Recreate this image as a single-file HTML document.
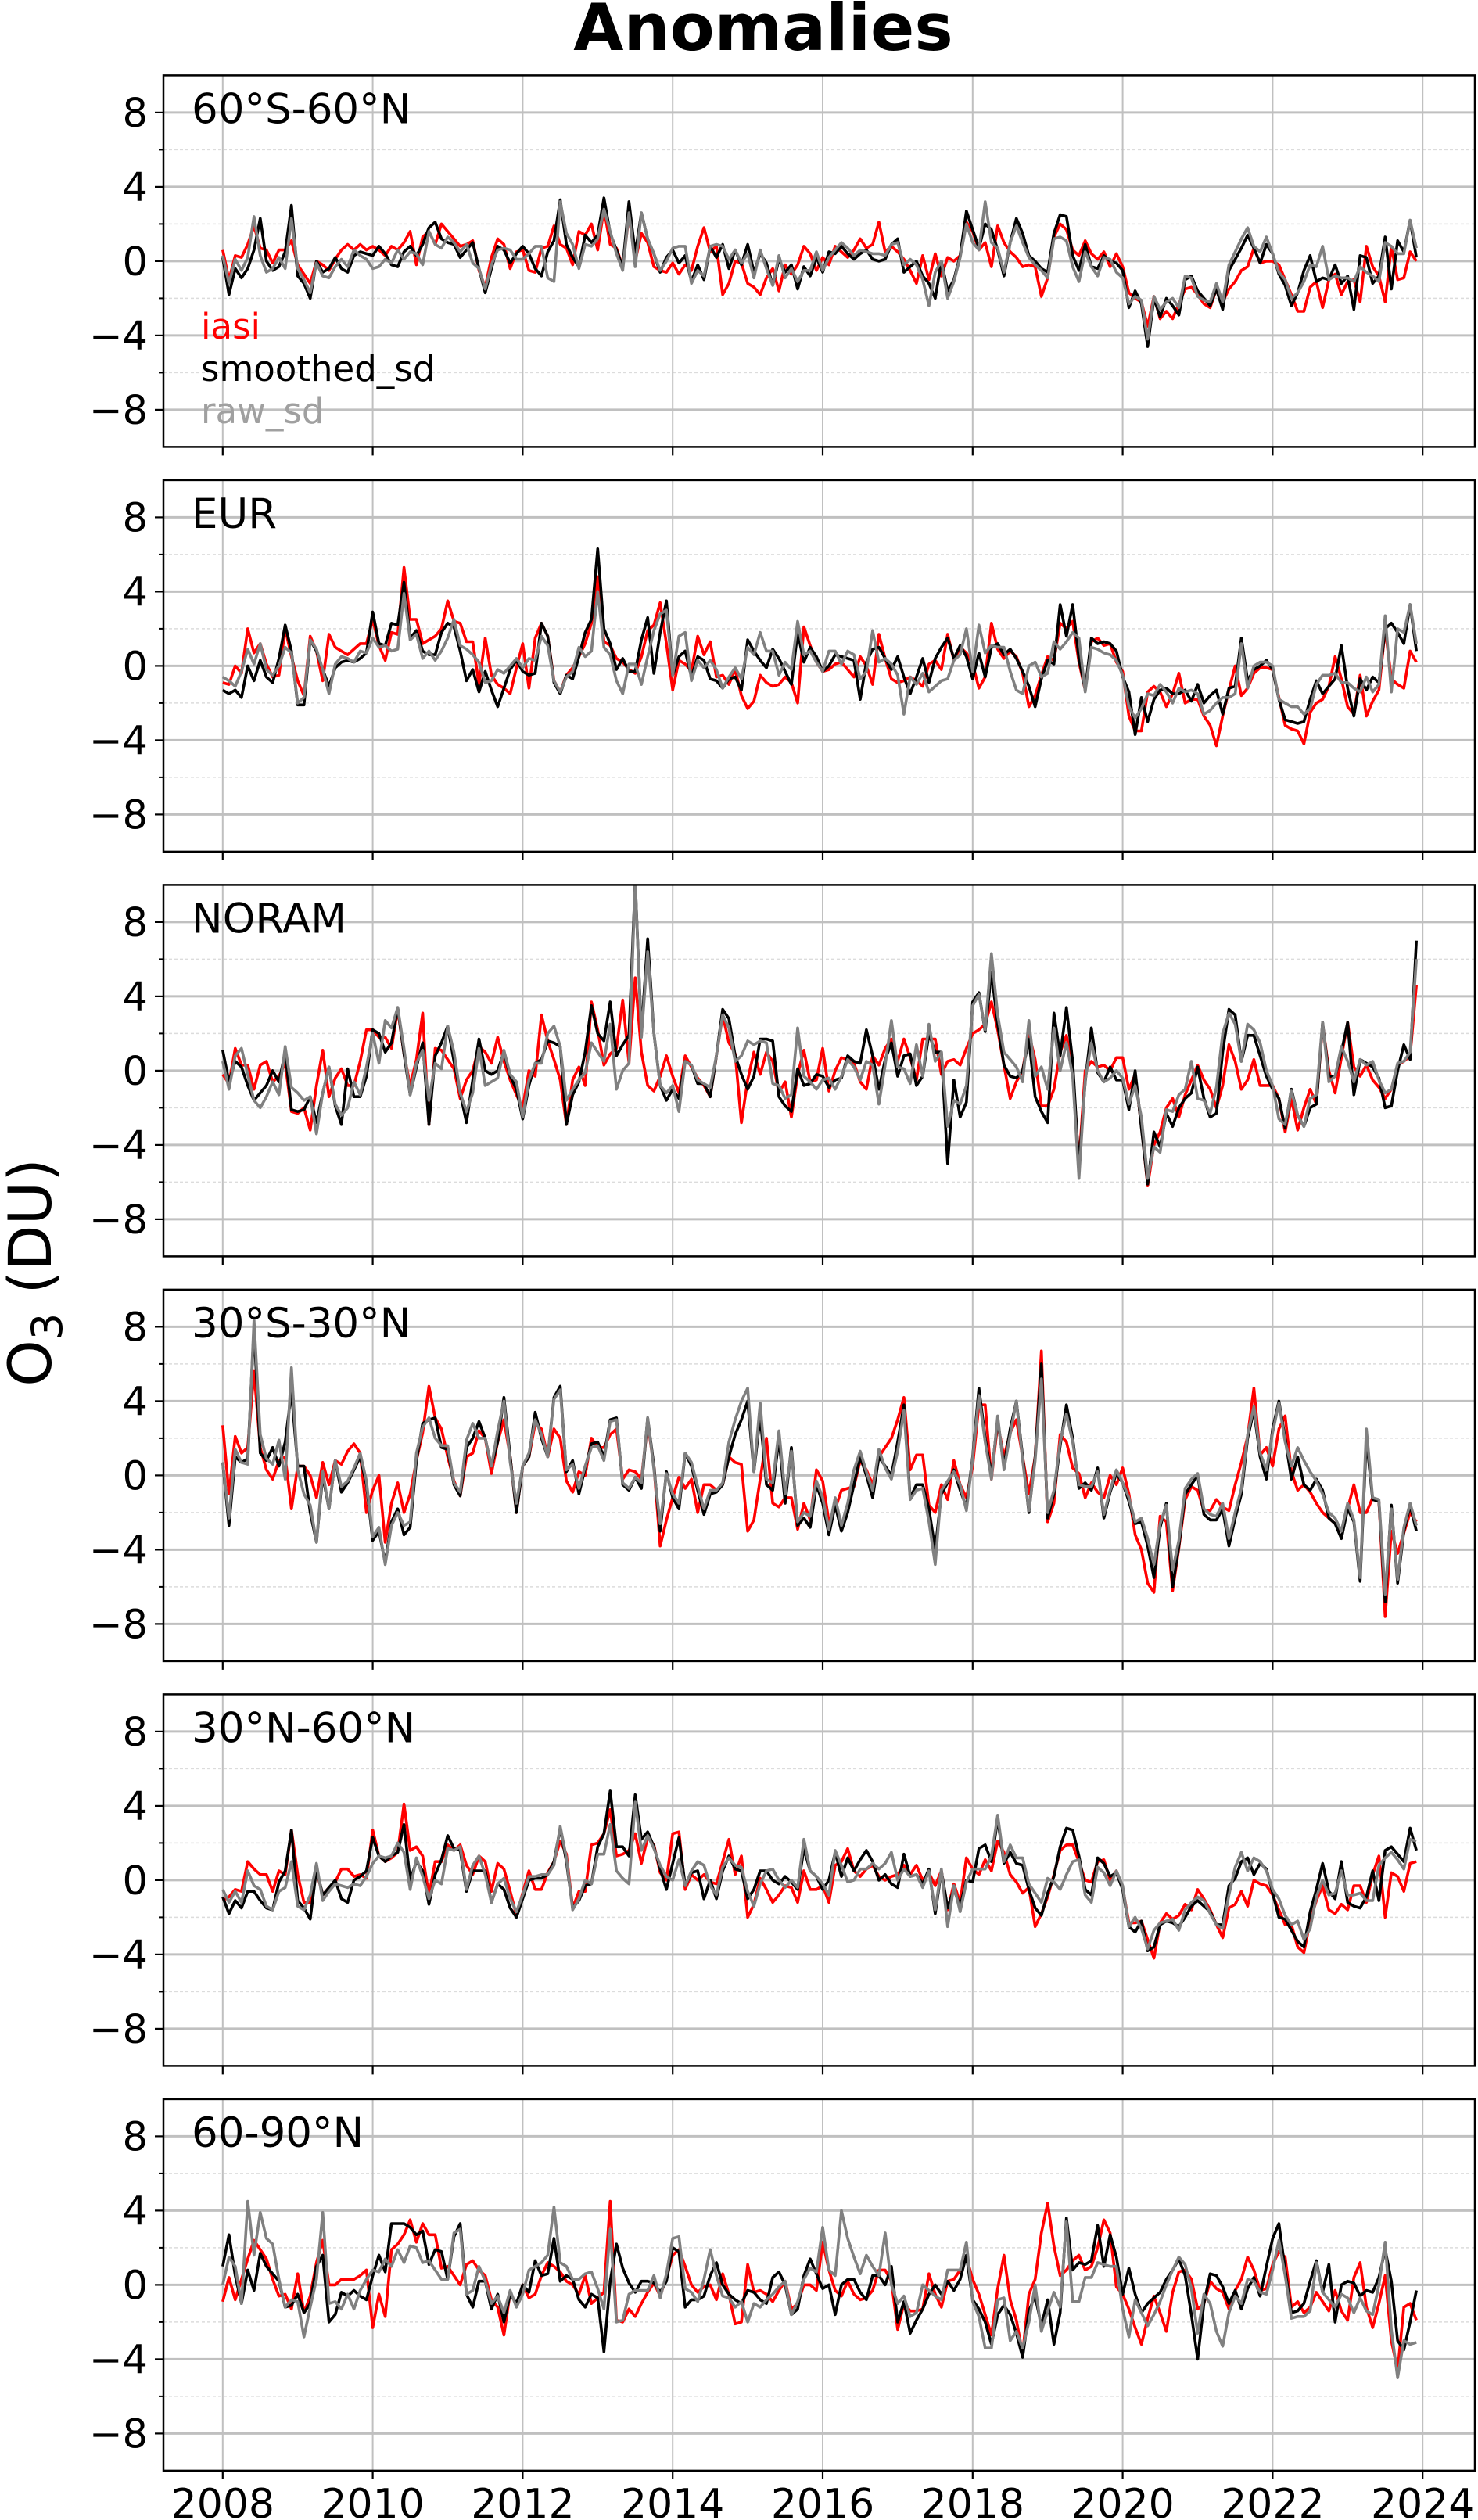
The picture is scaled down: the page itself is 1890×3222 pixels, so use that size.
<!DOCTYPE html>
<html><head><meta charset="utf-8"><title>Anomalies</title>
<style>html,body{margin:0;padding:0;background:#fff}svg{display:block}text{font-family:"DejaVu Sans","Liberation Sans",sans-serif}</style>
</head><body>
<svg id="fig" width="1890" height="3222" viewBox="0 0 1890 3222" xmlns="http://www.w3.org/2000/svg">
<text x="976" y="64" text-anchor="middle" font-size="83" font-weight="bold">Anomalies</text>
<text transform="translate(65,1627) rotate(-90)" text-anchor="middle" font-size="76">O<tspan font-size="54" dy="14">3</tspan><tspan dy="-14"> (DU)</tspan></text>
</svg>
<script>
const panelLabels=["60°S-60°N","EUR","NORAM","30°S-30°N","30°N-60°N","60-90°N"];
const panelNames=["global","eur","noram","tropics","midlat","arctic"];
const xTickYears=[2008,2010,2012,2014,2016,2018,2020,2022,2024];
const yTickValues=[-8,-4,0,4,8];
const yTickLabels=["−8","−4","0","4","8"];
const yMinorValues=[-6,-2,2,6];
const seriesNames=["iasi","smoothed_sd","raw_sd"];

const iasiGlobal=[0.6,-1.0,0.3,0.2,0.9,1.9,0.7,0.6,-0.1,0.6,0.6,1.1,-0.2,-0.7,-1.2,0,-0.2,-0.5,0.1,0.6,0.9,0.6,0.9,0.6,0.8,0.6,0.3,0.8,0.6,1.0,1.6,-0.2,1.3,1.6,0.9,2.0,1.6,1.2,0.8,0.9,1.1,-0.5,-1.4,0.2,1.2,0.9,-0.4,0.5,0.6,-0.5,-0.6,0.7,0.8,1.9,0.9,0.7,-0.2,1.6,1.4,2.0,0.6,2.8,0.9,0.7,-0.3,2.5,0,1.5,1.0,-0.3,-0.5,-0.6,-0.1,-0.7,-0.2,-0.5,0.8,1.8,0.5,0.8,-1.8,-1.2,0,-0.1,-1.2,-1.4,-1.8,-0.9,-0.4,-1.6,-0.2,-0.7,-0.2,0.8,0.4,-0.5,0.2,-0.2,0.8,0.5,0.2,0.6,1.2,0.7,0.9,2.1,0.5,0.8,0.5,0.1,-0.5,-1.2,0.3,-1.0,0.4,-0.8,0.2,0,0.3,2.1,1.6,0.6,1.0,-0.3,1.9,1.0,0.5,0.2,-0.3,-0.2,-0.3,-1.9,-0.9,1.3,2.0,1.7,0.6,0.3,1.1,0.4,0.1,0.5,-0.3,0.4,-0.3,-1.7,-2.0,-2.2,-3.5,-1.9,-3.1,-2.7,-3.1,-2.3,-1.5,-1.4,-1.8,-2.3,-2.5,-1.5,-2.2,-1.5,-1.1,-0.5,-0.3,0.7,-0.1,0.0,0.0,-0.2,-1.0,-1.8,-2.7,-2.7,-1.4,-1.1,-2.5,-1.0,-0.7,-1.8,-1.1,-1.0,-2.2,0.8,-0.3,-0.8,-2.2,0.8,-1.0,-0.9,0.5,0.0];
const smoothGlobal=[0.2,-1.8,-0.4,-0.9,-0.4,0.6,2.3,0,-0.5,-0.3,0.5,3.0,-0.8,-1.2,-2.0,0,-0.6,-0.4,0.2,-0.4,-0.6,0.3,0.5,0.4,0.3,0.8,0.4,-0.2,-0.3,0.5,0.8,0.3,0.9,1.8,2.1,1.2,1.0,0.9,0.2,0.6,1.0,-0.4,-1.7,-0.4,0.8,0.6,-0.1,0.4,0.8,0.4,-0.4,-0.8,0.5,1.1,3.3,0.9,0.2,-0.3,1.4,1.0,1.4,3.4,1.5,0.6,-0.3,3.2,0.4,2.6,1.2,0.4,-0.6,0.2,0.6,-0.1,0.3,-1.1,-0.2,-1.0,0.8,0.2,0.9,-0.4,0.6,-0.2,0.9,-0.6,0.4,-0.1,-1.3,0.1,-0.6,-0.2,-1.5,-0.3,-0.8,0.2,-0.6,0.5,0.4,0.8,0.4,0.1,0.4,0.6,0.1,0.0,0.1,0.9,1.2,-0.6,-0.3,0,-0.8,-1.2,-2.0,0,-1.6,-1.0,0.3,2.7,1.7,0.7,2.0,1.7,0.6,-0.8,1.0,2.3,1.5,0.3,0,-0.4,-0.6,1.5,2.5,2.4,0.3,-0.5,0.9,-0.3,-0.4,0.3,0,-0.1,-0.5,-2.5,-1.6,-2.3,-4.6,-2.0,-3.0,-2.0,-2.4,-2.9,-1.0,-0.8,-1.6,-2.0,-2.4,-1.5,-2.6,-0.5,0.1,0.7,1.4,0.7,-0.1,0.9,0.4,-0.7,-1.3,-2.4,-1.7,-0.5,0.3,-1.1,-0.9,-1.0,-0.2,-1.2,-0.8,-2.6,0.3,0.2,-1.2,-0.8,1.3,-1.5,1.1,0.5,2.2,0.2];
const rawGlobal=[0.3,-1.2,0.1,-0.5,0.2,2.4,0.3,-0.6,-0.4,0.2,-0.4,2.3,-0.4,-1.0,-1.7,-0.1,-0.8,-0.9,-0.3,0.1,-0.3,0.6,0.3,0.1,-0.4,-0.3,0.1,-0.1,0.6,0.1,0.5,0.4,-0.2,1.6,0.9,0.7,1.3,1.0,0.5,0.9,-0.1,-0.4,-1.5,-0.2,0.6,0.7,0.6,0.1,0.1,0.4,0.8,0.8,-0.9,-1.1,3.2,1.5,0.9,-0.4,0.9,0.8,1.2,2.8,1.6,0.4,-0.5,2.6,-0.3,2.6,1.2,0.4,-0.5,0,0.7,0.8,0.8,-1.2,-0.5,-0.8,0.8,0.9,0.8,0.1,0.6,-0.1,0.4,-0.9,0.6,-0.4,-1.3,0.3,-0.9,-0.4,-1.1,-0.5,-0.5,0.5,-0.5,0.2,0.6,1.0,0.7,0.3,0.6,0.5,0.4,0.4,0.3,0.9,1.0,-0.2,0.1,-0.2,-1.0,-2.4,-0.6,0,-2.0,-1.1,0.2,2.0,1.0,0.6,3.2,1.0,0.7,-0.6,1.0,1.9,1.0,0.2,-0.2,-0.5,-0.9,1.2,1.3,1.1,-0.3,-1.1,0.5,-0.3,-0.8,0.2,0.1,-0.6,-0.9,-2.3,-1.9,-2.1,-4.2,-1.9,-2.6,-2.2,-2.0,-2.5,-0.8,-0.9,-1.9,-2.1,-2.2,-1.2,-2.2,-0.2,0.5,1.2,1.8,0.8,0.5,1.3,0.4,-0.6,-1.0,-2.0,-1.7,-1.1,-0.2,-0.3,0.8,-1.0,-0.8,-0.9,-0.9,-1.1,-0.3,-0.6,-0.8,-1.1,1.0,0.8,0.4,0.4,2.2,0.7];

const iasiEur=[-0.9,-1.0,0.0,-0.4,2.0,0.7,1.2,0.1,-0.6,-0.5,2.0,0.5,-0.8,-1.6,1.6,0.8,-0.8,1.7,1.0,0.8,0.6,0.9,1.2,1.2,2.5,1.1,0.3,1.8,1.7,5.3,2.5,2.5,1.2,1.4,1.6,2.0,3.5,2.4,2.3,1.3,1.3,-1.0,1.5,-0.5,-1.0,-1.2,-1.5,-0.1,1.2,-1.2,1.5,2.3,1.6,-0.8,-1.4,-0.5,-0.1,0.5,1.2,2.3,4.8,1.3,1.1,0.4,0.2,-0.2,-0.4,0.5,1.9,2.2,3.4,1.2,-1.3,0.3,0.1,-0.3,1.6,0.6,1.3,-0.6,-0.5,-1.0,-0.2,-1.6,-2.3,-1.9,-0.5,-0.9,-1.1,-1.0,-0.6,-0.9,-2.0,2.1,1.1,0.2,-0.3,-0.2,0.1,0.2,-0.2,-0.6,0.5,0,-1.0,1.7,0.4,-0.7,-0.9,-0.8,-0.6,-0.8,-1.1,0.1,0.3,-0.2,1.7,0.3,1.0,0.7,0.1,-1.2,-0.6,2.3,0.9,0.4,0.8,0.5,-0.4,-2.2,-1.6,-0.5,0.5,0.3,2.3,2.0,2.4,0.2,-1.3,1.3,1.5,1.1,1.2,0.2,-0.3,-2.7,-3.5,-3.5,-1.4,-1.1,-1.4,-2.2,-1.5,-0.4,-2.0,-1.8,-1.8,-2.7,-3.2,-4.3,-2.7,-1.3,0,-1.6,-1.2,-0.4,-0.1,-0.1,-0.2,-1.7,-3.2,-3.4,-3.5,-4.2,-2.5,-2.0,-1.8,-1.1,0.5,-0.7,-2.2,-2.6,-0.5,-2.7,-1.9,-1.3,2.0,-0.7,-1.0,-1.2,0.8,0.2];
const smoothEur=[-1.3,-1.5,-1.3,-1.7,0,-0.8,0.3,-0.6,-0.9,0.4,2.2,0.8,-2.1,-2.1,1.4,0.8,-0.2,-1.1,-0.1,0.2,0.3,0.2,0.4,0.7,2.9,1.2,1.1,2.3,2.2,4.5,1.5,1.9,0.8,0.6,0.6,1.8,2.3,2.1,0.8,-0.8,-0.2,-1.4,-0.3,-1.3,-2.2,-1.2,-0.2,0.3,-0.3,-0.5,-0.4,2.3,1.6,-0.9,-1.5,-0.5,-0.7,0.5,1.8,2.5,6.3,2.0,1.2,-0.2,0.4,-0.3,-0.3,1.4,2.6,-0.4,1.8,3.5,-0.5,0.5,0.8,-0.6,0.5,0.3,-0.7,-0.8,-1.2,-0.7,-0.6,-1.3,1.4,0.8,0.3,-0.1,0.9,0.4,-0.3,-1.0,1.8,0.2,1.0,0.5,-0.3,0,0.6,0.5,0.4,0.3,-1.8,0.2,0.9,1.0,0.4,-0.2,0.5,-0.6,-1.5,-0.6,0.4,-0.9,0.4,1.0,1.5,0.4,1.1,0.5,-0.7,0.7,-0.6,1.0,1.2,0.6,0.9,0.4,-0.3,-1.1,-2.2,-0.7,0.3,0.1,3.3,1.6,3.3,0.4,-1.3,1.5,1.2,1.3,1.2,0.8,-0.6,-1.4,-3.7,-1.7,-3.0,-1.8,-1.3,-1.2,-1.5,-1.5,-1.3,-1.9,-1.0,-2.0,-1.6,-1.3,-2.6,-1.2,-1.1,1.5,-0.8,-0.2,0,0.3,-0.2,-1.8,-2.9,-3.0,-3.1,-3.0,-1.8,-0.8,-1.5,-1.1,-0.7,1.1,-1.2,-2.7,-0.7,-1.3,-0.6,-0.9,2.0,2.3,1.8,1.2,3.3,0.8];
const rawEur=[-0.6,-0.8,-1.1,-0.3,0.9,0.1,1.2,-0.2,-0.5,0,1.0,0.7,-2.0,-1.7,1.4,0.9,-0.2,-1.5,0.1,0.5,0.4,0.2,0.8,0.7,1.5,1.0,1.1,0.8,0.9,3.9,1.4,1.7,0.4,0.8,0.3,0.8,1.5,2.5,1.1,0.9,0.6,0.2,-0.9,-0.8,-0.2,-0.4,0,0.4,-0.1,0.4,0.3,1.6,1.1,-0.8,-1.4,-0.6,-0.3,1.0,0.5,0.8,4.0,1.0,0.6,-0.8,-1.5,0.1,0.1,-1.0,0.5,1.9,2.8,3.0,-0.5,1.6,1.8,-0.8,0.3,-0.1,0.3,-0.2,-1.2,-0.6,-0.1,-0.7,1.0,0.6,1.8,0.8,0.8,-0.5,0.2,-0.2,2.4,0.6,0.8,0.2,-0.3,0.8,0.8,0.1,0.8,0.6,-0.7,-0.3,1.9,0.2,0.4,0.1,-0.5,-2.6,-0.6,-1.0,-0.4,-1.4,-1.1,-0.8,-0.7,0.3,0.6,2.0,-0.3,2.2,0.7,1.1,1.0,1.0,-0.3,-1.3,-1.5,0,0.2,-0.6,-0.4,1.3,0.9,1.3,1.8,1.5,-1.4,1.0,0.9,0.7,0.6,0.3,-0.5,-2.2,-2.8,-2.3,-1.5,-1.6,-1.0,-1.4,-2.0,-1.2,-1.4,-1.3,-1.5,-2.6,-2.4,-2.0,-1.7,-1.7,-1.5,1.2,-1.2,0,0.2,0.2,0,-1.8,-2.0,-2.2,-2.2,-2.6,-2.3,-1.0,-0.5,-0.5,-0.4,-0.9,-0.9,-1.2,-1.4,-0.6,-1.4,-1.0,2.7,-1.4,2.0,1.8,3.3,1.2];

const iasiNoram=[-0.2,-0.7,1.2,0.3,0.3,-1.0,0.3,0.5,-0.6,-0.3,0.4,-2.2,-2.3,-2.0,-3.2,-0.8,1.1,-1.4,-0.4,0.1,-0.8,-0.8,0.5,2.2,2.2,1.8,1.8,1.2,3.3,0.9,-0.8,0.6,3.1,-2.9,1.2,1.1,0.6,0.1,-1.5,-0.5,0.0,1.3,1.0,0.4,1.8,0.5,-0.5,-1.3,-2.0,0.0,-0.3,3.0,1.6,0.6,-0.5,-2.9,-0.5,0.2,-0.8,3.7,2.2,0.3,0.9,1.2,3.8,0.4,5.0,1.0,-0.8,-1.1,-0.3,0.8,-0.3,-1.2,0.8,0.2,-0.4,-0.8,-1.4,0.8,3.0,1.5,0.9,-2.8,-0.5,1.0,-0.2,1.0,0.5,-1.2,-0.6,-2.5,-0.2,1.1,-0.6,-0.5,1.2,-1.1,0.0,0.7,0.6,0.4,-0.6,-1.0,0.8,0.3,1.2,1.7,0.5,1.7,0.7,-0.5,1.7,1.7,1.7,-0.2,0.5,0.6,0.3,1.2,2.0,2.2,2.5,3.7,2.2,0.3,-1.5,-0.6,0.0,2.0,0.6,-1.9,-1.9,-1.0,1.0,1.9,0.1,-5.0,0.0,0.5,0.2,0.3,0.0,0.7,0.7,-1.0,-0.2,-3.0,-6.2,-4.0,-3.3,-2.0,-1.5,-2.5,-1.3,-0.5,0.3,-0.5,-1.0,-2.0,-0.8,1.4,0.5,-1.0,-0.5,0.6,-0.8,-0.8,-0.8,-1.5,-3.3,-1.5,-3.2,-2.0,-1.0,-1.8,2.5,0.0,-1.2,0.7,2.6,0.2,-0.3,0.3,-0.5,-0.9,-1.5,-1.0,0.3,0.5,0.8,4.6];
const smoothNoram=[1.1,-0.6,0.5,0.2,-0.8,-1.6,-1.2,-0.8,0.0,-0.6,1.0,-2.1,-2.2,-2.1,-1.4,-2.8,-1.2,0.2,-1.9,-2.9,0.1,-1.4,-1.4,-0.3,2.2,2.0,1.0,1.5,3.4,0.9,-1.3,0.2,1.5,-2.9,0.8,1.5,2.4,0.5,-1.2,-2.8,-0.5,1.7,0.0,-0.2,0.0,1.0,-0.3,-1.0,-2.6,-0.8,0.4,0.6,1.6,1.5,1.3,-2.9,-1.3,-0.6,1.0,3.5,2.0,1.6,3.7,0.8,1.4,1.9,10.2,2.0,7.1,2.0,-0.8,-1.6,-1.0,-1.5,0.5,0.3,-0.7,-0.7,-1.4,0.8,3.3,2.8,0.8,-0.2,-1.0,-0.3,1.7,1.7,1.6,-1.4,-1.9,-2.2,0.1,-0.8,-0.7,-0.2,-0.3,-0.9,-0.5,-0.4,0.8,0.5,0.4,2.2,0.8,-1.0,0.6,1.5,-0.3,0.8,0.9,-0.8,-0.3,2.0,1.0,1.0,-5.0,-0.5,-2.5,-1.7,3.7,4.2,2.1,5.3,2.5,0.3,-0.3,-0.4,0.0,1.7,-1.4,-2.2,-2.8,3.1,0.8,3.4,0.5,-5.2,-0.6,2.3,-0.1,-0.6,0.2,-0.5,-0.5,-2.1,0.0,-3.1,-6.1,-3.3,-4.1,-2.3,-3.0,-2.0,-1.5,-1.2,0.2,-1.5,-2.5,-2.3,1.0,3.3,3.0,0.5,1.9,1.9,0.8,-0.3,-1.0,-1.5,-3.1,-1.0,-2.4,-3.0,-2.0,-1.8,2.6,-0.3,-0.3,1.0,2.6,-1.3,0.6,0.4,0.2,-0.4,-2.0,-1.9,0.0,1.4,0.6,7.0];
const rawNoram=[0.5,-1.0,0.8,1.2,-0.2,-1.6,-2.0,-1.4,-0.6,-1.3,1.3,-0.9,-1.2,-1.6,-1.4,-3.4,-1.2,0.2,-1.8,-2.4,-2.0,-0.6,-1.3,0.2,2.0,0.4,2.7,2.3,3.4,1.2,-1.3,0.4,1.1,-1.6,0.4,0.1,2.4,1.0,-1.2,-2.2,-1.2,1.2,-0.8,-0.6,-0.4,1.1,-0.2,-0.6,-2.5,-0.5,0.4,0.4,2.0,2.4,1.3,-1.6,-1.0,-0.5,-0.1,1.5,1.0,0.5,2.5,-1.0,0.0,0.4,10.2,1.8,6.4,2.0,-0.8,-1.2,-0.8,-2.2,0.5,0.3,-0.5,-0.7,-0.9,0.8,3.0,2.3,0.5,0.8,1.6,1.4,1.6,1.5,-0.7,-0.8,-1.5,-1.3,2.3,-0.3,-0.6,-1.0,-0.5,-0.4,-1.0,-0.3,0.6,0.2,-0.5,0.5,0.3,-1.8,0.3,2.7,0.2,0.1,-0.7,1.4,-0.3,2.5,0.5,1.0,-3.0,-1.6,-1.8,-0.8,3.5,4.1,2.2,6.3,3.0,1.0,0.6,0.2,-0.6,2.7,-0.3,0.2,-1.0,2.3,0.0,1.5,-0.3,-5.8,-0.5,1.5,0.0,-0.6,-0.4,0.0,-0.4,-1.8,-0.8,-2.5,-5.8,-4.1,-4.4,-2.1,-2.2,-1.3,-1.0,0.5,-1.5,-1.6,-2.3,-0.9,2.0,3.1,2.5,0.5,2.5,2.2,1.5,0.0,-0.8,-2.6,-2.9,-1.1,-2.4,-3.0,-1.5,-1.3,2.6,-0.6,-0.3,1.3,0.5,-0.6,0.6,0.3,0.5,-0.5,-1.2,-1.0,0.4,0.5,1.0,6.0];

const iasiTropics=[2.7,-1.0,2.1,1.2,1.5,5.6,1.5,0.3,-0.2,0.8,1.0,-1.8,0.5,0.5,0.0,-1.2,0.7,-0.5,0.8,0.6,1.3,1.7,1.2,-2.0,-0.8,0.0,-3.6,-1.5,-0.4,-2.0,-1.0,0.8,2.3,4.8,3.1,2.5,1.0,-0.3,-1.1,1.0,1.2,2.4,2.0,0.1,1.8,3.0,1.0,-2.0,0.5,1.0,2.8,2.5,1.0,2.5,2.0,-0.3,-0.9,0.2,0.0,2.0,1.5,1.5,2.2,2.5,-0.2,0.3,0.2,-0.2,2.8,0.5,-3.8,-2.4,-1.2,-0.1,-0.7,-0.2,-2.0,-0.5,-0.5,-0.8,-0.5,1.0,0.7,0.6,-3.0,-2.4,-0.2,2.0,-1.5,-1.7,-1.2,-1.2,-2.9,-1.5,-2.4,0.3,-0.3,-2.5,-1.8,-0.8,-0.7,-0.6,0.8,0.3,-0.5,1.0,1.5,2.0,3.0,4.2,0.3,1.1,1.1,-1.6,-2.0,-0.5,-1.3,0.8,-0.5,-1.2,0.5,3.8,3.8,-0.2,2.8,1.0,2.3,3.0,1.0,-1.0,1.0,6.7,-2.5,-1.5,2.2,1.8,0.4,0.1,-1.2,-0.4,-0.9,-1.2,0.0,-0.5,0.4,-1.0,-3.2,-4.0,-5.8,-6.3,-2.2,-2.5,-6.2,-3.9,-1.3,-0.6,-0.8,-1.9,-1.9,-1.3,-1.7,-1.9,-0.5,0.7,2.1,4.7,1.1,1.5,0.5,2.5,3.2,0.2,-0.8,-0.5,-0.9,-1.5,-2.0,-2.3,-2.6,-3.0,-1.8,-0.5,-2.0,-2.0,-1.2,-1.4,-7.6,-3.0,-4.2,-3.1,-2.0,-2.5];
const smoothTropics=[0.7,-2.7,1.0,0.7,0.9,8.0,1.2,0.8,1.5,0.5,1.8,4.5,0.5,0.5,-2.0,-3.6,0.0,-1.8,0.8,-0.9,-0.4,0.3,1.0,-0.5,-3.5,-3.0,-4.7,-2.5,-1.8,-3.2,-2.8,0.8,2.8,3.0,3.1,1.5,1.4,-0.5,-1.1,1.5,2.0,2.9,2.0,0.5,1.8,4.2,1.0,-2.0,0.5,1.0,3.4,2.0,1.0,4.2,4.8,0.2,0.8,-1.0,0.4,1.7,1.8,1.0,3.0,3.1,-0.5,-0.8,-0.1,-0.7,3.1,0.5,-3.0,0.2,-1.2,-1.8,1.2,0.5,-0.8,-2.1,-1.0,-0.9,-0.5,1.0,2.2,3.0,4.0,0.2,3.2,-0.5,-0.8,2.0,-1.5,1.5,-2.7,-2.3,-2.8,-0.5,-1.5,-3.2,-1.6,-3.0,-2.0,-0.5,1.0,0.0,-1.2,1.0,0.5,0.0,1.8,3.8,-1.2,-0.5,-0.5,-1.8,-4.0,-1.0,-0.4,0.3,-0.8,-1.7,1.0,4.7,2.0,0.0,3.0,0.5,2.5,4.0,1.0,-2.0,1.0,6.0,-2.3,-1.0,1.6,3.8,2.0,-0.7,-0.4,-0.8,0.4,-2.3,-0.9,0.1,-0.4,-1.4,-2.6,-2.5,-3.8,-5.5,-2.8,-1.5,-6.0,-3.8,-1.0,-0.5,0.0,-2.1,-2.4,-2.4,-1.8,-3.8,-2.3,-1.0,2.0,3.5,1.0,-0.2,2.5,4.0,2.0,-0.2,1.0,-0.5,-0.8,-0.2,-0.8,-2.3,-2.6,-3.4,-1.8,-2.5,-5.7,2.0,-1.3,-1.4,-6.8,-1.6,-5.8,-3.0,-1.6,-3.0];
const rawTropics=[0.7,-2.3,1.4,0.7,0.6,8.4,2.2,0.9,0.6,1.9,-0.2,5.8,0.3,-1.0,-1.6,-3.6,0.2,-1.8,0.8,-0.6,-0.3,0.4,1.2,-0.3,-3.3,-2.8,-4.8,-2.7,-2.0,-2.7,-2.5,1.2,2.6,3.1,2.0,1.6,1.6,-0.4,-0.9,1.9,2.8,2.0,2.0,0.5,2.4,4.0,0.7,-1.5,0.5,1.2,3.0,2.2,1.0,4.1,4.6,0.3,0.6,-0.7,0.5,1.5,1.6,0.8,2.9,3.0,-0.4,-0.7,-0.1,-0.4,3.1,0.3,-2.6,0.1,-1.0,-1.5,1.2,0.7,-0.6,-1.8,-0.8,-0.8,-0.4,1.8,3.0,4.0,4.7,0.2,3.9,-0.2,-0.4,2.4,-1.0,1.3,-2.5,-2.0,-2.2,-0.3,-1.2,-2.9,-1.2,-2.7,-1.5,0.3,1.3,0.2,-0.8,1.4,0.4,-0.2,1.3,3.5,-1.3,-0.8,-0.7,-2.5,-4.8,-0.8,-0.3,0.2,-0.5,-1.9,0.9,4.3,1.8,-0.2,3.2,0.3,2.2,4.0,0.8,-1.9,0.8,5.2,-2.0,-0.8,1.8,3.3,1.8,-0.5,-0.6,-0.6,0.2,-2.1,-0.8,0.3,-0.4,-1.2,-2.5,-2.3,-3.4,-4.8,-2.6,-1.6,-5.1,-3.5,-0.7,-0.2,0.1,-1.8,-2.1,-2.2,-1.5,-3.4,-2.0,-0.7,2.2,3.7,1.2,0.3,2.3,3.9,1.8,0.5,1.5,0.8,0.2,-0.3,-1.0,-2.0,-2.3,-3.0,-1.5,-2.4,-5.5,2.5,-1.2,-1.3,-6.4,-1.8,-5.6,-2.8,-1.5,-2.7];

const iasiMidlat=[-1.1,-0.9,-0.5,-0.6,1.0,0.6,0.3,0.3,-0.6,0.5,0.3,2.7,0.3,-1.2,-1.2,0.5,-0.8,-0.4,-0.1,0.6,0.6,0.2,0.3,0.1,2.7,1.3,1.0,1.2,1.5,4.1,1.6,1.8,1.3,-0.8,1.0,1.0,1.9,1.6,1.9,0.8,0.3,1.3,1.0,-0.6,0.9,0.6,-0.6,-1.9,-0.7,0.5,-0.5,-0.5,0.4,1.0,2.1,1.4,-1.5,-0.6,-0.6,1.9,2.0,2.5,3.8,1.3,1.4,1.6,2.5,0.9,2.3,1.9,0.4,0.0,2.5,2.6,-0.5,0.3,0.0,0.3,-0.1,-0.2,1.0,2.2,0.3,1.3,-2.0,-1.3,0.1,-0.5,-1.2,-0.8,-0.3,-0.4,-1.2,0.5,-0.5,-0.5,-0.3,-1.2,0.8,1.0,1.7,0.5,0.2,0.6,0.8,0.2,0.0,0.2,0.3,0.8,0.3,0.8,0.0,0.4,-0.3,0.5,-1.6,-0.2,-1.2,1.2,0.6,0.3,1.1,0.5,2.1,1.5,0.3,-0.1,-0.7,-0.4,-2.5,-1.8,-0.9,0.3,1.6,1.9,1.9,1.0,0.0,-0.1,1.0,1.1,0.0,0.5,-0.4,-2.3,-2.3,-2.2,-3.2,-4.2,-2.3,-1.8,-2.1,-1.9,-1.3,-1.6,-0.5,-1.0,-1.6,-2.4,-3.1,-1.5,-1.3,-0.6,-1.4,0.0,-0.2,-0.3,-0.8,-1.6,-2.4,-2.4,-3.6,-3.9,-2.2,-1.1,-0.3,-1.6,-1.8,-1.3,-1.6,-0.3,-0.3,-1.2,0.3,1.3,-2.0,0.4,0.2,-0.6,0.9,1.0];
const smoothMidlat=[-0.9,-1.8,-1.1,-1.5,-0.6,-0.6,-1.1,-1.5,-1.6,-0.1,0.5,2.7,-1.1,-1.5,-2.1,0.6,-0.8,-0.4,0.0,-1.0,-1.2,0.0,0.2,0.5,2.3,1.3,1.0,1.3,1.5,3.0,0.0,1.0,0.5,-1.3,0.3,1.1,2.4,1.7,1.6,-0.6,0.5,0.5,0.5,-1.2,-0.2,-0.5,-1.5,-2.0,-1.0,0.0,0.1,0.1,0.3,1.0,2.8,1.0,-1.5,-1.1,-0.3,-0.2,1.8,2.5,4.8,1.8,1.8,1.3,4.6,2.2,2.6,1.8,0.6,-0.5,0.9,2.3,-0.3,0.4,0.5,-1.0,0.0,-1.0,0.5,1.3,0.6,0.5,-1.0,-0.5,0.5,0.5,0.0,-0.2,0.2,-0.1,-0.5,1.7,0.5,0.2,-0.5,0.0,1.5,0.2,1.2,0.5,1.1,1.6,1.0,0.0,0.3,-0.2,-0.4,1.4,0.2,0.3,-0.2,0.6,-1.8,0.5,-1.5,-0.5,-1.4,0.0,-0.1,1.7,1.9,1.0,3.3,0.9,1.5,0.9,0.8,-0.5,-1.5,-1.9,-0.7,0.2,1.8,2.8,2.7,1.3,-0.5,-0.8,1.2,0.9,0.2,0.4,-0.5,-2.5,-2.8,-2.2,-3.8,-3.6,-2.4,-2.2,-2.3,-2.5,-2.0,-1.4,-1.1,-1.4,-1.7,-2.4,-2.4,-0.3,0.1,1.0,1.2,0.3,0.9,0.6,-0.7,-2.0,-2.1,-2.7,-3.3,-3.6,-1.7,-0.5,0.9,-0.6,-1.0,1.0,-1.2,-1.4,-1.5,-0.9,0.5,-1.1,1.6,1.8,1.4,1.0,2.8,1.6];
const rawMidlat=[-0.5,-1.2,-0.6,-1.2,0.5,-0.3,-0.5,-1.4,-1.6,-0.6,-0.4,1.0,-1.4,-1.6,-0.8,0.9,-1.1,-0.6,-0.2,-0.3,-0.4,-0.2,-0.3,0.2,0.9,1.3,1.2,1.3,2.0,1.5,-0.5,1.2,0.2,-1.0,0.0,-0.2,1.7,1.6,1.8,-0.5,0.8,1.3,0.3,-1.2,-0.2,0.1,-1.0,-1.7,-0.8,0.2,0.2,0.3,0.3,0.8,2.9,1.2,-1.6,-1.0,0.0,-0.2,1.4,1.4,3.0,0.5,0.1,-0.2,4.2,1.6,2.4,1.7,0.8,0.2,0.0,1.1,-0.3,0.5,1.0,0.8,-0.3,-0.8,0.7,1.2,0.8,0.7,-0.6,-1.4,-0.2,0.5,0.6,0.0,-0.4,0.0,-0.4,2.2,0.5,0.2,-0.2,-0.8,1.6,0.8,-0.1,0.0,0.6,0.6,0.9,0.6,0.9,1.5,0.0,0.6,0.2,0.3,-0.4,0.5,-1.6,0.6,-2.5,-0.3,-1.7,-0.1,0.6,0.6,0.6,1.3,3.5,1.0,1.9,1.2,1.2,-0.2,-0.7,-1.2,0.1,-0.1,-0.5,0.3,1.0,1.1,-0.8,-1.2,0.7,0.4,-0.3,0.5,-0.3,-2.5,-2.0,-2.6,-3.7,-2.7,-2.3,-2.2,-2.1,-2.7,-1.6,-1.2,-0.9,-1.1,-1.8,-2.4,-2.6,-0.8,0.7,1.5,0.5,1.2,1.0,0.5,-0.5,-1.0,-1.9,-2.4,-2.2,-3.2,-2.6,-0.9,0.0,-0.8,-0.7,0.5,-0.8,-0.8,-0.7,-1.1,-1.1,0.8,1.2,1.5,1.1,0.6,2.2,2.1];

const iasiArctic=[-0.9,0.4,-0.8,0.3,1.4,2.4,1.9,1.4,0.3,-0.6,-0.5,-1.3,0.6,-1.5,-0.6,1.2,2.4,0.0,0.0,0.3,0.3,0.3,0.5,0.8,-2.3,-0.5,-1.7,1.9,2.2,2.7,3.5,2.3,3.3,2.7,2.7,0.9,1.0,0.5,0.0,1.1,1.3,0.8,0.5,-0.8,-1.2,-2.7,-0.4,-1.1,0.0,-0.7,-0.5,0.5,1.2,1.0,0.7,0.2,0.0,-0.5,0.5,-1.0,-0.7,-0.4,4.5,-1.9,-2.0,-1.3,-1.7,-1.0,-0.4,0.1,-0.6,0.4,1.6,1.9,1.0,0.0,-0.4,-0.1,0.0,-0.8,0.6,-0.5,-2.1,-2.0,1.1,-0.4,-0.3,-0.5,-0.9,-0.3,0.2,-1.3,-1.0,0.0,0.0,-0.3,2.3,0.8,-0.3,-0.6,0.2,-0.5,-0.8,-0.7,-0.3,0.8,0.8,0.2,-2.4,-1.0,-1.4,-1.4,-1.3,0.6,-0.5,-1.2,0.2,0.3,0.8,1.5,0.3,-0.5,-1.6,-2.7,-0.2,1.6,-0.8,-1.9,-3.7,-0.5,0.3,2.8,4.4,2.1,0.5,0.8,1.3,1.6,0.8,1.0,2.0,3.5,2.8,-0.1,-0.5,-1.3,-2.3,-3.2,-1.8,-0.6,-1.5,-2.5,-0.4,0.7,0.8,0.3,-1.3,-1.0,0.2,-0.2,-0.4,-1.3,-0.3,0.3,1.5,0.8,-0.3,-0.2,1.1,1.8,1.5,-1.2,-0.9,-1.5,-1.2,-0.4,-0.9,-1.4,-0.3,-1.4,-1.9,0.4,1.2,-1.2,-2.3,-1.0,0.5,-3.0,-4.6,-1.2,-1.0,-1.9];
const smoothArctic=[1.0,2.7,0.5,-1.0,0.8,-0.3,1.7,1.0,0.6,0.2,-1.2,-1.1,-0.5,-1.5,-1.0,1.0,1.6,-2.0,-1.6,-0.4,-0.6,-0.3,-0.6,-0.8,0.5,1.6,0.7,3.3,3.3,3.3,3.1,2.7,2.9,1.1,1.9,1.8,0.3,2.6,3.3,-0.5,-1.2,0.2,0.2,-1.3,-0.5,-2.0,-0.5,-1.0,0.0,-0.4,1.3,0.5,0.6,2.5,0.2,0.5,0.3,-0.8,-1.2,-0.5,-0.7,-3.6,0.2,2.2,0.9,0.1,-0.4,0.2,0.2,0.1,-0.4,0.2,2.0,1.8,-1.2,-0.8,-0.8,-0.6,0.5,1.2,0.0,-0.5,-0.8,-1.0,-0.3,-0.4,-0.8,-1.0,0.4,0.7,0.0,-1.6,-1.3,0.5,1.4,0.6,-0.2,0.0,-1.6,0.0,0.3,0.3,-0.4,-0.8,0.5,0.5,0.0,1.0,-2.0,-0.9,-2.6,-1.9,-1.3,-0.5,0.0,-0.5,0.2,-0.3,0.3,1.6,-0.8,-1.3,-2.0,-3.2,-1.6,-1.1,-1.6,-2.6,-3.9,-1.4,-0.6,-2.2,-0.8,-3.2,-1.5,3.6,0.8,1.2,1.1,1.3,3.2,1.0,2.7,1.5,-0.5,0.9,-0.5,-1.5,-1.0,-0.7,-0.4,0.3,0.8,1.4,0.5,-1.6,-4.0,-1.0,0.6,0.5,-0.1,-1.0,-0.3,-1.3,-0.2,0.4,-0.6,1.0,2.5,3.3,0.8,-1.5,-1.4,-1.0,0.2,1.3,-0.4,1.1,-2.0,0.0,0.2,0.1,-0.6,-0.3,-0.4,0.4,1.9,0.2,-3.0,-3.5,-2.0,-0.3];
const rawArctic=[0.0,1.5,1.0,-1.0,4.5,1.6,3.9,2.5,2.2,0.3,-1.2,-0.8,-0.9,-2.8,-1.2,0.3,3.9,-1.0,-0.9,-1.3,-0.5,-1.3,-0.3,0.3,0.8,0.7,1.4,1.0,1.9,1.2,2.1,2.0,1.2,1.3,0.8,0.3,0.3,2.8,3.0,-0.5,-0.3,1.0,0.2,-1.0,-0.6,-1.5,-0.3,-1.2,-0.5,0.8,1.0,1.2,1.6,4.2,1.2,1.0,0.3,0.3,0.6,0.7,-0.2,-1.3,3.0,-2.0,-1.9,-0.5,-0.3,-0.3,-0.3,0.5,-0.7,0.6,2.5,2.6,-0.2,-0.4,-0.9,0.3,1.9,0.5,-0.6,-0.7,-1.2,-0.9,-2.0,-1.0,-1.2,-0.8,-0.5,-0.1,0.2,-1.6,-0.9,0.3,0.9,0.7,3.1,0.8,0.5,4.0,2.5,1.5,0.6,1.6,1.0,0.5,2.8,0.0,-1.0,-0.6,-1.7,-1.5,0.0,-0.3,-0.6,-0.8,0.8,0.8,0.8,2.3,-0.9,-1.7,-3.4,-3.4,-0.8,-0.7,-3.0,-2.5,-3.4,-2.0,0.0,-2.5,-1.4,-0.4,-1.2,3.4,-0.9,-0.9,0.4,0.4,1.2,1.1,1.0,1.0,-1.3,-2.8,-0.8,-1.5,-2.2,-1.6,-0.9,0.0,0.8,1.5,1.1,-0.2,-2.6,-0.5,-1.0,-2.5,-3.3,-1.5,-0.6,-1.0,0.3,0.2,-0.4,-0.5,0.8,2.4,0.5,-1.8,-1.7,-1.7,-1.4,1.2,-0.4,-0.8,-1.2,-0.5,-0.7,-1.5,-0.7,-1.4,-1.6,0.0,2.3,-2.4,-5.0,-3.0,-3.2,-3.1];

const panelSeries=[
  [iasiGlobal,smoothGlobal,rawGlobal],
  [iasiEur,smoothEur,rawEur],
  [iasiNoram,smoothNoram,rawNoram],
  [iasiTropics,smoothTropics,rawTropics],
  [iasiMidlat,smoothMidlat,rawMidlat],
  [iasiArctic,smoothArctic,rawArctic]
];

const NS="http://www.w3.org/2000/svg";
const svg=document.getElementById("fig");
const L=209,R=1886,PH=475,TOP0=96.4,PITCH=517.5;
const X0=284.8,PXYEAR=95.9,YMIN=-10,YMAX=10;
const colors=["#ff0000","#000000","#808080"];
function xScale(monthIndex){return X0+(monthIndex/12)*PXYEAR;}
function xYear(year){return X0+(year-2008)*PXYEAR;}
function yScale(v,top){return top+(YMAX-v)/(YMAX-YMIN)*PH;}
function mk(tag,attrs,parent){const e=document.createElementNS(NS,tag);for(const k in attrs)e.setAttribute(k,attrs[k]);(parent||svg).appendChild(e);return e;}

const defs=mk("defs",{});
panelNames.forEach((pname,p)=>{
  const top=TOP0+p*PITCH;
  const g=mk("g",{});
  
  
  const cp=mk("clipPath",{id:"clip"+p},defs);
  mk("rect",{x:L,y:top,width:R-L,height:PH},cp);
  // minor dashed grid
  yMinorValues.forEach(v=>{
    const ln=mk("line",{x1:L,x2:R,y1:yScale(v,top),y2:yScale(v,top),stroke:"#dcdcdc","stroke-width":1.5,"stroke-dasharray":"4,3"},g);
    
    
    const tk=mk("line",{x1:L-6,x2:L,y1:yScale(v,top),y2:yScale(v,top),stroke:"#000","stroke-width":2},g);
    
    
  });
  // vertical grid + x ticks
  xTickYears.forEach(yr=>{
    const x=xYear(yr);
    const ln=mk("line",{x1:x,x2:x,y1:top,y2:top+PH,stroke:"#c0c0c0","stroke-width":2},g);
    
    
    const tk=mk("line",{x1:x,x2:x,y1:top+PH,y2:top+PH+11,stroke:"#000","stroke-width":2.2},g);
    
    
    if(p===5){
      const t=mk("text",{x:x,y:3219,"text-anchor":"middle","font-size":52},g);
      t.textContent=String(yr);
      
      
    }
  });
  // horizontal major grid + y ticks
  yTickValues.forEach((v,i)=>{
    const y=yScale(v,top);
    const ln=mk("line",{x1:L,x2:R,y1:y,y2:y,stroke:"#c0c0c0","stroke-width":3},g);
    
    
    const tk=mk("line",{x1:L-11,x2:L,y1:y,y2:y,stroke:"#000","stroke-width":2.2},g);
    
    
    const t=mk("text",{x:189,y:y+18,"text-anchor":"end","font-size":51},g);
    t.textContent=yTickLabels[i];
    
    
  });
  // series lines
  const sg=mk("g",{"clip-path":"url(#clip"+p+")"},g);
  panelSeries[p].forEach((arr,s)=>{
    const d=arr.map((v,i)=>(i?"L":"M")+xScale(i).toFixed(1)+","+yScale(v,top).toFixed(1)).join("");
    const path=mk("path",{d:d,fill:"none",stroke:colors[s],"stroke-width":3.6,"stroke-linejoin":"round"},sg);
    
    
  });
  // frame
  const fr=mk("rect",{x:L,y:top,width:R-L,height:PH,fill:"none",stroke:"#000","stroke-width":2.5},g);
  
  
  const lab=mk("text",{x:245,y:top+61,"font-size":53},g);
  lab.textContent=panelLabels[p];
  
  
  if(p===0){
    const legendColors=["#ff0000","#000000","#a0a0a0"];
    const lg=mk("g",{},g);
    
    
    seriesNames.forEach((nm,s)=>{
      const t=mk("text",{x:257,y:433+s*54,"font-size":45,fill:legendColors[s]},lg);
      t.textContent=nm;
      
      
    });
  }
});
</script>
</body></html>
